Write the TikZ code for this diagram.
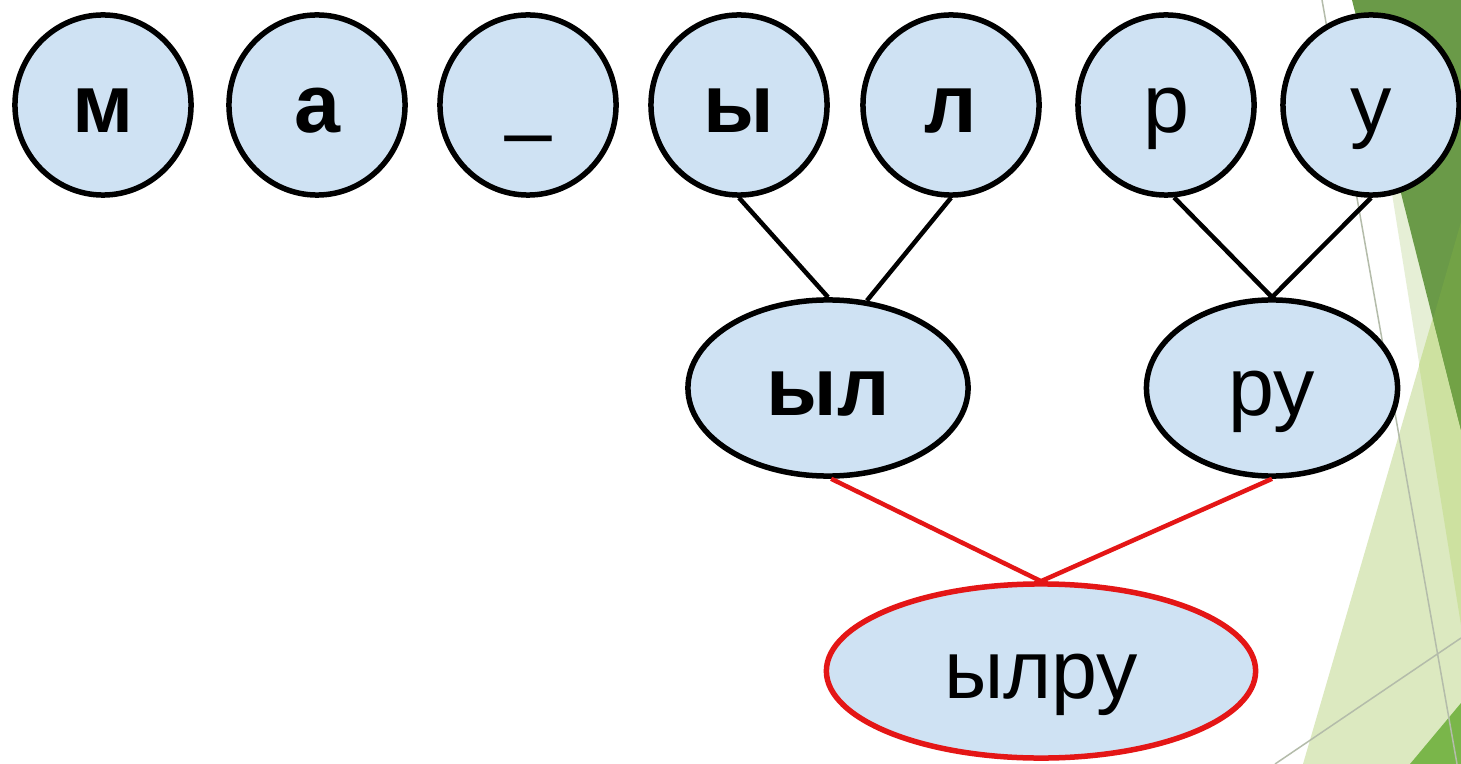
\documentclass[tikz,border=0pt]{standalone}
\usepackage{fontspec}
\usepackage{graphicx}
\setmainfont{Liberation Sans}
\usetikzlibrary{shapes.geometric}
\definecolor{nodefill}{RGB}{207,226,243}
\definecolor{edgered}{RGB}{228,22,22}
\definecolor{gS}{RGB}{230,239,214}
\definecolor{gP}{RGB}{220,233,192}
\definecolor{gSP}{RGB}{205,225,160}
\definecolor{gD}{RGB}{106,154,72}
\definecolor{gDP}{RGB}{114,162,70}
\definecolor{gT}{RGB}{122,182,74}
\definecolor{thingray}{RGB}{180,188,170}
\tikzset{
  bnode/.style={ellipse, draw=black, line width=0.055cm, fill=nodefill,
    inner sep=0pt, font=\fontsize{23.5pt}{28pt}\selectfont,
    text height=15.5pt, text depth=0pt},
  letter/.style={bnode, minimum width=1.76cm, minimum height=1.80cm},
  boldletter/.style={letter, font=\fontsize{23.5pt}{28pt}\selectfont\bfseries},
  link/.style={draw=black, line width=0.045cm},
  redlink/.style={draw=edgered, line width=0.045cm},
  deco/.style={draw=thingray, line width=0.015cm},
}
\begin{document}
\begin{tikzpicture}[x=0.01cm,y=-0.01cm]
\useasboundingbox (0,0) rectangle (1461,764);
\fill[white] (0,0) rectangle (1461,764);
% background decoration
\fill[gS] (1361,0) -- (1461,0) -- (1461,625) -- cycle;
\fill[gP] (1303,764) -- (1461,222) -- (1461,764) -- cycle;
\fill[gSP] (1419,365) -- (1461,222) -- (1461,625) -- cycle;
\fill[gD] (1352,0) -- (1461,0) -- (1461,430) -- cycle;
\fill[gDP] (1433,319) -- (1461,222) -- (1461,430) -- cycle;
\fill[gT] (1410,764) -- (1461,703) -- (1461,764) -- cycle;
\path[deco] (1322,0) -- (1457,764);
\path[deco] (1275,764) -- (1461,638);
% nodes
\node[boldletter] (m) at (103,105) {м};
\node[boldletter] (a) at (317,105) {а};
\node[boldletter] (us) at (528,105) {\raisebox{2.4pt}{\scalebox{1}[1.8]{\char95}}};
\node[boldletter] (y1) at (739,105) {ы};
\node[boldletter] (l) at (951,105) {л};
\node[letter] (r) at (1166,105) {р};
\node[letter] (u) at (1371,105) {у};
\node[bnode, minimum width=2.80cm, minimum height=1.76cm, font=\fontsize{23.5pt}{28pt}\selectfont\bfseries] (yl) at (828,388) {ыл};
\node[bnode, minimum width=2.51cm, minimum height=1.76cm] (ru) at (1272,388) {ру};
\node[bnode, draw=edgered, minimum width=4.29cm, minimum height=1.74cm] (ylru) at (1041,671) {ылру};
% connectors
\path[link] (y1.south) -- (yl.north);
\path[link] (l.south) -- (yl.66);
\path[link] (r.-85) -- (ru.north);
\path[link] (u.south) -- (ru.north);
\path[redlink] (yl.-88) -- (ylru.north);
\path[redlink] (ru.south) -- (ylru.north);
\end{tikzpicture}
\end{document}
